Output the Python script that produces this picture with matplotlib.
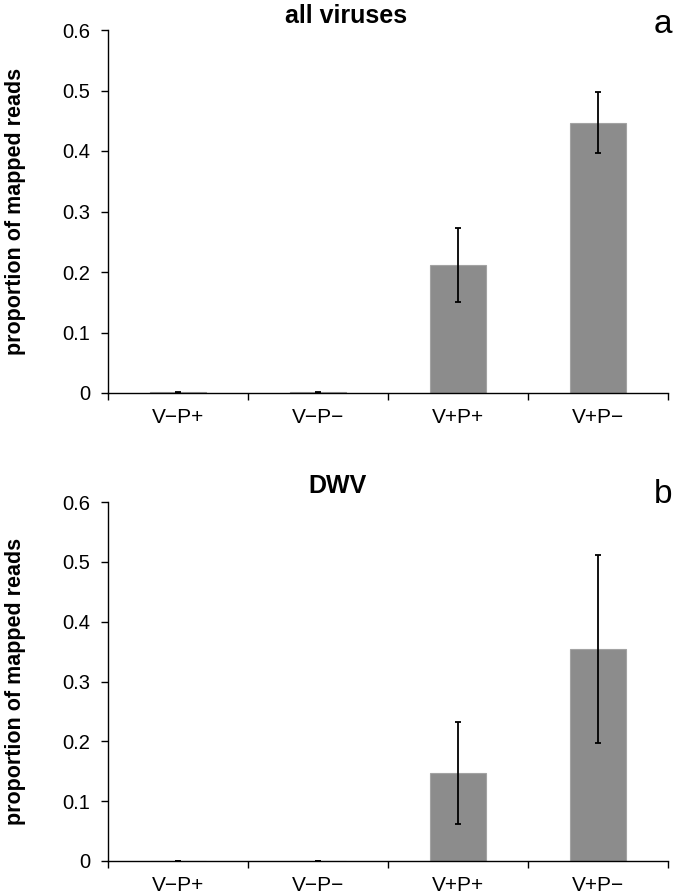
import matplotlib
matplotlib.use("Agg")
import matplotlib.pyplot as plt
import numpy as np

plt.rcParams['font.family'] = ['Liberation Sans', 'DejaVu Sans']

categories = ["V\u2212P+", "V\u2212P\u2212", "V+P+", "V+P\u2212"]
all_values = [0.001, 0.001, 0.212, 0.447]
all_errors = [0.001, 0.001, 0.061, 0.050]
dwv_values = [0.0005, 0.0005, 0.147, 0.354]
dwv_errors = [0.0003, 0.0003, 0.085, 0.157]
yticks = [0, 0.1, 0.2, 0.3, 0.4, 0.5, 0.6]
ytick_labels = ["0", "0.1", "0.2", "0.3", "0.4", "0.5", "0.6"]

W, H = 675, 894
fig = plt.figure(figsize=(W / 100, H / 100), dpi=100)

def fx(px):
    return px / W

def fy(py):
    return 1 - py / H

ax1 = fig.add_axes([fx(108), fy(393), fx(668) - fx(108), fy(30) - fy(393)])
ax2 = fig.add_axes([fx(108), fy(861), fx(668) - fx(108), fy(502) - fy(861)])

def draw(ax, vals, errs):
    x = np.arange(len(categories))
    ax.bar(x, vals, width=0.4, color='#8c8c8c', edgecolor='#a3a3a3', linewidth=0.8, zorder=2)
    ax.errorbar(x, vals, yerr=errs, fmt='none', ecolor='black', elinewidth=1.3,
                capsize=2.4, capthick=1.3, zorder=3)
    ax.set_xlim(-0.5, len(categories) - 0.5)
    ax.set_ylim(0, 0.6)
    ax.set_yticks(yticks)
    ax.set_yticklabels(ytick_labels, fontsize=14.5)
    ax.set_xticks(np.arange(len(categories) + 1) - 0.5)
    ax.set_xticklabels([])
    ax.set_xticks(x, minor=True)
    ax.set_xticklabels(categories, minor=True, fontsize=15)
    ax.tick_params(axis='x', which='minor', length=0, pad=11)
    ax.tick_params(axis='x', which='major', length=5, width=1.0, direction='out')
    ax.tick_params(axis='y', length=5, width=1.0, direction='out', pad=8)
    for s in ['top', 'right']:
        ax.spines[s].set_visible(False)
    for s in ['left', 'bottom']:
        ax.spines[s].set_linewidth(1.0)

draw(ax1, all_values, all_errors)
draw(ax2, dwv_values, dwv_errors)

for ax in (ax1, ax2):
    pos = ax.get_position()
    fig.text(fx(16), (pos.y0 + pos.y1) / 2, "proportion of mapped reads", rotation=90,
             ha='center', va='center', fontsize=15.5, fontweight='bold')

fig.text(fx(346), fy(23), "all viruses", ha='center', va='baseline', fontsize=18, fontweight='bold')
fig.text(fx(337), fy(493), "DWV", ha='center', va='baseline', fontsize=18, fontweight='bold')
fig.text(fx(663), fy(33), "a", ha='center', va='baseline', fontsize=24)
fig.text(fx(663), fy(503), "b", ha='center', va='baseline', fontsize=24)

fig.savefig("out.png", dpi=100)
